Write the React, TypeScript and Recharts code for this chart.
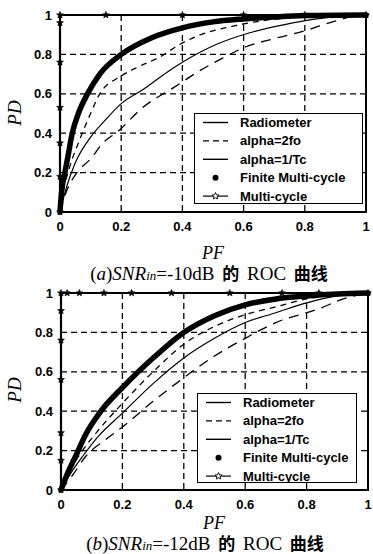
import React from 'react';
import { LineChart, Line, XAxis, YAxis, CartesianGrid, ReferenceArea, Legend } from 'recharts';

type Pt = { x: number; y: number };

const pfTicks = [0, 0.2, 0.4, 0.6, 0.8, 1];
const pdTicks = [0, 0.2, 0.4, 0.6, 0.8, 1];

const seriesNames = ['Radiometer', 'alpha=2fo', 'alpha=1/Tc', 'Finite Multi-cycle', 'Multi-cycle'];

// (a) SNRin = -10dB
const radiometerA: Pt[] = [
  { x: 0, y: 0 }, { x: 0.02, y: 0.1 }, { x: 0.055, y: 0.2 }, { x: 0.1, y: 0.27 }, { x: 0.14, y: 0.35 },
  { x: 0.19, y: 0.41 }, { x: 0.27, y: 0.53 }, { x: 0.37, y: 0.63 }, { x: 0.46, y: 0.72 }, { x: 0.53, y: 0.78 },
  { x: 0.61, y: 0.84 }, { x: 0.7, y: 0.88 }, { x: 0.8, y: 0.92 }, { x: 0.88, y: 0.96 }, { x: 0.95, y: 0.99 }, { x: 1, y: 1 },
];
const alpha2foA: Pt[] = [
  { x: 0, y: 0 }, { x: 0.01, y: 0.1 }, { x: 0.03, y: 0.22 }, { x: 0.065, y: 0.37 }, { x: 0.1, y: 0.5 },
  { x: 0.13, y: 0.6 }, { x: 0.2, y: 0.69 }, { x: 0.26, y: 0.74 }, { x: 0.33, y: 0.79 }, { x: 0.39, y: 0.85 },
  { x: 0.46, y: 0.9 }, { x: 0.57, y: 0.945 }, { x: 0.68, y: 0.975 }, { x: 0.8, y: 0.99 }, { x: 1, y: 1 },
];
const alpha1TcA: Pt[] = [
  { x: 0, y: 0 }, { x: 0.02, y: 0.12 }, { x: 0.05, y: 0.25 }, { x: 0.1, y: 0.38 }, { x: 0.15, y: 0.47 },
  { x: 0.2, y: 0.55 }, { x: 0.27, y: 0.62 }, { x: 0.35, y: 0.71 }, { x: 0.4, y: 0.76 }, { x: 0.51, y: 0.85 },
  { x: 0.62, y: 0.91 }, { x: 0.73, y: 0.95 }, { x: 0.84, y: 0.98 }, { x: 1, y: 1 },
];
const finiteA: Pt[] = [
  { x: 0, y: 0 }, { x: 0.005, y: 0.1 }, { x: 0.016, y: 0.2 }, { x: 0.028, y: 0.3 }, { x: 0.04, y: 0.4 },
  { x: 0.06, y: 0.5 }, { x: 0.09, y: 0.6 }, { x: 0.13, y: 0.7 }, { x: 0.2, y: 0.8 }, { x: 0.3, y: 0.885 },
  { x: 0.4, y: 0.935 }, { x: 0.5, y: 0.965 }, { x: 0.6, y: 0.98 }, { x: 0.7, y: 0.99 }, { x: 0.8, y: 0.997 }, { x: 1, y: 1 },
];
const multiA: Pt[] = [
  { x: 0, y: 0 }, { x: 0, y: 0.18 }, { x: 0, y: 0.35 }, { x: 0, y: 0.53 }, { x: 0, y: 0.76 }, { x: 0, y: 0.96 },
  { x: 0, y: 1 }, { x: 0.15, y: 1 }, { x: 0.4, y: 1 }, { x: 0.6, y: 1 }, { x: 0.8, y: 1 }, { x: 1, y: 1 },
];

// (b) SNRin = -12dB
const radiometerB: Pt[] = [
  { x: 0, y: 0 }, { x: 0.04, y: 0.08 }, { x: 0.08, y: 0.17 }, { x: 0.14, y: 0.25 }, { x: 0.2, y: 0.32 },
  { x: 0.3, y: 0.45 }, { x: 0.4, y: 0.57 }, { x: 0.5, y: 0.68 }, { x: 0.6, y: 0.77 }, { x: 0.7, y: 0.85 },
  { x: 0.84, y: 0.92 }, { x: 0.92, y: 0.97 }, { x: 1, y: 1 },
];
const alpha2foB: Pt[] = [
  { x: 0, y: 0 }, { x: 0.03, y: 0.1 }, { x: 0.07, y: 0.2 }, { x: 0.12, y: 0.3 }, { x: 0.2, y: 0.44 },
  { x: 0.3, y: 0.6 }, { x: 0.4, y: 0.74 }, { x: 0.5, y: 0.83 }, { x: 0.6, y: 0.89 }, { x: 0.7, y: 0.93 },
  { x: 0.8, y: 0.97 }, { x: 0.9, y: 0.99 }, { x: 1, y: 1 },
];
const alpha1TcB: Pt[] = [
  { x: 0, y: 0 }, { x: 0.03, y: 0.08 }, { x: 0.07, y: 0.17 }, { x: 0.12, y: 0.27 }, { x: 0.2, y: 0.39 },
  { x: 0.3, y: 0.54 }, { x: 0.4, y: 0.67 }, { x: 0.5, y: 0.77 }, { x: 0.6, y: 0.85 }, { x: 0.7, y: 0.9 },
  { x: 0.8, y: 0.95 }, { x: 0.9, y: 0.985 }, { x: 1, y: 1 },
];
const finiteB: Pt[] = [
  { x: 0, y: 0 }, { x: 0.02, y: 0.08 }, { x: 0.05, y: 0.18 }, { x: 0.08, y: 0.28 }, { x: 0.13, y: 0.4 },
  { x: 0.2, y: 0.52 }, { x: 0.3, y: 0.67 }, { x: 0.4, y: 0.8 }, { x: 0.5, y: 0.885 }, { x: 0.6, y: 0.94 },
  { x: 0.7, y: 0.97 }, { x: 0.8, y: 0.985 }, { x: 0.9, y: 0.995 }, { x: 1, y: 1 },
];
const multiB: Pt[] = [
  { x: 0, y: 0 }, { x: 0, y: 0.15 }, { x: 0, y: 0.29 }, { x: 0, y: 0.56 }, { x: 0, y: 0.76 }, { x: 0, y: 0.91 },
  { x: 0, y: 1 }, { x: 0.02, y: 1 }, { x: 0.06, y: 1 }, { x: 0.14, y: 1 }, { x: 0.23, y: 1 }, { x: 0.36, y: 1 },
  { x: 0.55, y: 1 }, { x: 0.72, y: 1 }, { x: 0.84, y: 1 }, { x: 1, y: 1 },
];

const SANS = '"Liberation Sans", Arial, sans-serif';
const SERIF = '"Liberation Serif", "Times New Roman", serif';
const CJK = '"Noto Sans CJK SC", sans-serif';

const starPoints = (cx: number, cy: number, r: number) => {
  const pts: string[] = [];
  for (let i = 0; i < 10; i++) {
    const rr = i % 2 === 0 ? r : r * 0.45;
    const a = -Math.PI / 2 + (i * Math.PI) / 5;
    pts.push(`${cx + rr * Math.cos(a)},${cy + rr * Math.sin(a)}`);
  }
  return pts.join(' ');
};

const StarDot = (props: any) => {
  const { cx, cy, index } = props;
  if (cx == null || cy == null) return <g key={`s${index}`} />;
  return <polygon key={`s${index}`} points={starPoints(cx, cy, 3.6)} fill="#000" stroke="#000" strokeWidth={0.6} />;
};

const LegendBox = ({ width, height }: { width: number; height: number }) => {
  const rowH = 18.4;
  const y0 = 9.5;
  return (
    <div style={{ width, height, background: '#fff', border: '1.5px solid #000', boxSizing: 'border-box', position: 'relative' }}>
      <svg width={width} height={height} style={{ position: 'absolute', left: -1.5, top: -1.5 }}>
        {seriesNames.map((name, i) => {
          const y = y0 + i * rowH;
          let icon: React.ReactNode = null;
          if (i === 0 || i === 2) icon = <line x1={9} x2={34} y1={y} y2={y} stroke="#000" strokeWidth={1.4} />;
          if (i === 1) icon = <line x1={9} x2={34} y1={y} y2={y} stroke="#000" strokeWidth={1.4} strokeDasharray="6 4" />;
          if (i === 3) icon = <circle cx={21.5} cy={y} r={3} fill="#000" />;
          if (i === 4)
            icon = (
              <g>
                <line x1={9} x2={34} y1={y} y2={y} stroke="#000" strokeWidth={1.2} />
                <polygon points={starPoints(21.5, y, 3.6)} fill="#fff" stroke="#000" strokeWidth={0.9} />
              </g>
            );
          return (
            <g key={name}>
              {icon}
              <text x={46} y={y} dy="0.35em" fontFamily={SANS} fontSize={13} fontWeight="bold" fill="#000">
                {name}
              </text>
            </g>
          );
        })}
      </svg>
    </div>
  );
};

type PanelProps = {
  top: number;
  radiometer: Pt[];
  alpha2fo: Pt[];
  alpha1Tc: Pt[];
  finite: Pt[];
  multi: Pt[];
  yAxisWidth: number;
  marginRight: number;
  legend: { left: number; top: number; width: number; height: number };
};

const Panel = ({ top, radiometer, alpha2fo, alpha1Tc, finite, multi, yAxisWidth, marginRight, legend }: PanelProps) => (
  <div style={{ position: 'absolute', left: 0, top }}>
    <LineChart width={373} height={240} margin={{ top: 15, right: marginRight, bottom: 8, left: 0 }}>
      <CartesianGrid stroke="#000" strokeWidth={1.3} strokeDasharray="6 4" horizontalValues={pdTicks} verticalValues={pfTicks} />
      <XAxis
        type="number"
        dataKey="x"
        domain={[0, 1]}
        ticks={pfTicks}
        allowDuplicatedCategory={false}
        axisLine={false}
        tickLine={false}
        tickSize={0}
        tickMargin={10}
        height={20}
        tick={{ fill: '#000', fontSize: 13, fontWeight: 'bold', fontFamily: SANS }}
        tickFormatter={(v: number) => String(v)}
      />
      <YAxis
        type="number"
        dataKey="y"
        domain={[0, 1]}
        ticks={pdTicks}
        width={yAxisWidth}
        axisLine={false}
        tickLine={false}
        tickSize={0}
        tickMargin={8}
        tick={{ fill: '#000', fontSize: 13, fontWeight: 'bold', fontFamily: SANS }}
        tickFormatter={(v: number) => String(v)}
      />
      <ReferenceArea x1={0} x2={1} y1={0} y2={1} fill="none" stroke="#000" strokeWidth={2} ifOverflow="visible" />
      <Line data={radiometer} dataKey="y" type="monotone" stroke="#000" strokeWidth={1.3} strokeDasharray="10 7" dot={false} isAnimationActive={false} />
      <Line data={alpha2fo} dataKey="y" type="monotone" stroke="#000" strokeWidth={1.3} strokeDasharray="6 5" dot={false} isAnimationActive={false} />
      <Line data={alpha1Tc} dataKey="y" type="monotone" stroke="#000" strokeWidth={1.2} dot={false} isAnimationActive={false} />
      <Line data={finite} dataKey="y" type="monotone" stroke="#000" strokeWidth={5.5} strokeLinecap="round" dot={false} isAnimationActive={false} />
      <Line data={multi} dataKey="y" type="linear" stroke="#000" strokeWidth={2.2} dot={StarDot} isAnimationActive={false} />
      <Legend
        layout="vertical"
        align="center"
        verticalAlign="middle"
        wrapperStyle={{ position: 'absolute', left: legend.left, top: legend.top, width: legend.width, height: legend.height }}
        content={() => <LegendBox width={legend.width} height={legend.height} />}
      />
    </LineChart>
  </div>
);

const labelPD = (cy: number) => (
  <div
    style={{
      position: 'absolute',
      left: 14,
      top: cy,
      transform: 'translate(-50%, -50%) rotate(-90deg)',
      fontFamily: SERIF,
      fontStyle: 'italic',
      fontSize: 19,
      lineHeight: 1,
      whiteSpace: 'nowrap',
    }}
  >
    PD
  </div>
);

const labelPF = (cx: number, cy: number) => (
  <div
    style={{
      position: 'absolute',
      left: cx,
      top: cy,
      transform: 'translate(-50%, -50%)',
      fontFamily: SERIF,
      fontStyle: 'italic',
      fontSize: 18,
      lineHeight: 1,
      whiteSpace: 'nowrap',
    }}
  >
    PF
  </div>
);

const caption = (cx: number, cy: number, letter: string, snr: string) => (
  <div
    style={{
      position: 'absolute',
      left: cx,
      top: cy,
      transform: 'translate(-50%, -50%)',
      fontFamily: SERIF,
      fontSize: 19,
      lineHeight: 1,
      whiteSpace: 'nowrap',
      wordSpacing: 3,
    }}
  >
    (<i>{letter}</i>)<i>SNR</i>
    <i style={{ fontSize: 13 }}>in</i>={snr}dB <span style={{ fontFamily: CJK, fontWeight: 'bold', fontSize: 17 }}>的</span> ROC{' '}
    <span style={{ fontFamily: CJK, fontWeight: 'bold', fontSize: 17 }}>曲线</span>
  </div>
);

export default function App() {
  return (
    <div style={{ position: 'absolute', left: 0, top: 0, width: 373, height: 554, background: '#fff', overflow: 'hidden' }}>
      <Panel
        top={0}
        radiometer={radiometerA}
        alpha2fo={alpha2foA}
        alpha1Tc={alpha1TcA}
        finite={finiteA}
        multi={multiA}
        yAxisWidth={60}
        marginRight={7}
        legend={{ left: 194, top: 113, width: 169, height: 91 }}
      />
      <Panel
        top={278}
        radiometer={radiometerB}
        alpha2fo={alpha2foB}
        alpha1Tc={alpha1TcB}
        finite={finiteB}
        multi={multiB}
        yAxisWidth={61}
        marginRight={5}
        legend={{ left: 197, top: 115, width: 160, height: 90 }}
      />
      {labelPD(113)}
      {labelPD(390)}
      {labelPF(213, 253)}
      {labelPF(214, 523)}
      {caption(209, 273, 'a', '-10')}
      {caption(205, 543, 'b', '-12')}
    </div>
  );
}
